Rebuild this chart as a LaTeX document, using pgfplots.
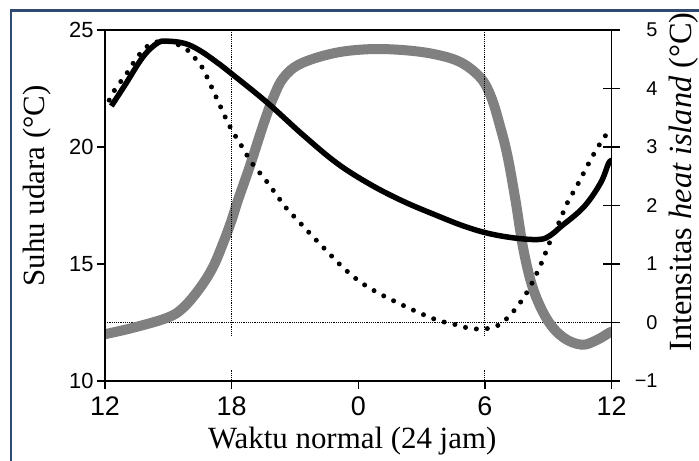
\documentclass[border=0pt]{standalone}
\usepackage{fontspec}
\setmainfont{Liberation Serif}
\newfontfamily\arialf{Liberation Sans}
\usepackage{pgfplots}
\pgfplotsset{compat=1.18}
\definecolor{framecol}{RGB}{46,74,112}
\definecolor{islandgray}{RGB}{128,128,128}

\newcommand{\rlab}[1]{\makebox[34bp][r]{\arialf\fontsize{20}{20}\selectfont #1}}

\pgfplotsset{
  base/.style={
    at={(105bp,80bp)}, anchor=south west,
    scale only axis, width=506.5bp, height=351bp,
    xmin=12, xmax=36,
    axis line style={line width=1.4bp, black},
    tick style={line width=1.4bp, black},
    /pgf/number format/assume math mode=true,
  },
}

\begin{document}
\begin{tikzpicture}[x=1bp,y=1bp]
\useasboundingbox (0,0) rectangle (699,461);
\fill[white] (0,0) rectangle (699,461);
\draw[framecol, line width=2.5bp] (11,-20) -- (11,450.5) -- (720,450.5);

% right axis: heat island intensity
\begin{axis}[base,
  ymin=-1, ymax=5,
  hide x axis, ytick pos=right, yticklabel pos=right,
  ytick={-1,0,1,2,3,4,5},
  yticklabels={\rlab{−1},\rlab{0},\rlab{1},\rlab{2},\rlab{3},\rlab{4},\rlab{5}},
  ytick align=center, major tick length=17bp,
  ylabel={Intensitas \textit{heat island} (°C)},
  every axis y label/.style={at={(axis description cs:1.143,0.567)}, rotate=90, anchor=center,
    font=\fontsize{32.5}{32.5}\selectfont},
]
\addplot[densely dotted, line width=1.2bp] coordinates {(12,0) (36,0)};
\addplot[islandgray, line width=10bp, smooth, tension=0.6] coordinates {
  (12.0,-0.20) (13.33,-0.09) (14.94,0.08) (15.7,0.25) (16.5,0.59)
  (17.12,0.95) (17.6,1.36) (18.0,1.75) (18.3,2.09) (18.88,2.69)
  (19.5,3.38) (19.97,3.84) (20.45,4.18) (21.25,4.42) (22.8,4.60)
  (24.4,4.67) (26.0,4.66) (27.56,4.59) (28.84,4.45) (29.8,4.18)
  (30.3,3.85) (30.7,3.38) (31.07,2.85) (31.45,2.09) (31.83,1.24)
  (32.3,0.56) (32.97,0.04) (33.73,-0.26) (34.6,-0.38) (35.3,-0.30)
  (35.87,-0.18) (36.0,-0.16)
};
\end{axis}

% left axis: air temperature
\begin{axis}[base,
  ymin=10, ymax=25,
  xtick={12,18,24,30,36}, xticklabels={12,18,0,6,12},
  ytick={10,15,20,25},
  xtick pos=bottom, ytick pos=left,
  tick align=outside, major tick length=8bp,
  xticklabel style={font=\arialf\fontsize{27}{27}\selectfont, yshift=-4bp},
  yticklabel style={font=\arialf\fontsize{22}{22}\selectfont},
  xlabel={Waktu normal (24 jam)},
  ylabel={Suhu udara (°C)},
  every axis y label/.style={at={(axis description cs:-0.134,0.556)}, rotate=90, anchor=center,
    font=\fontsize{31}{31}\selectfont},
  every axis x label/.style={at={(axis description cs:0.488,-0.172)}, anchor=center,
    font=\fontsize{31}{31}\selectfont},
]
\addplot[densely dotted, line width=1.2bp] coordinates {(18,25) (18,11.9)};
\addplot[densely dotted, line width=1.2bp] coordinates {(18,10.45) (18,10)};
\addplot[densely dotted, line width=1.2bp] coordinates {(30,25) (30,11.9)};
\addplot[densely dotted, line width=1.2bp] coordinates {(30,10.45) (30,10)};
% dotted series
\addplot[black, line width=5bp, line cap=round, dash pattern=on 0pt off 11bp, smooth, tension=0.6] coordinates {
  (12.2,22.0) (12.5,22.5) (13.0,23.1) (13.5,23.8) (14.0,24.3) (14.5,24.5)
  (15.0,24.5) (15.3,24.45) (15.65,24.27) (16.03,24.06) (16.36,23.68)
  (16.65,23.33) (17.08,22.5) (17.5,21.67) (17.93,20.85) (18.5,20.0)
  (18.97,19.3) (19.6,18.6) (20.2,17.86) (20.54,17.44) (21.2,16.8)
  (21.87,16.15) (22.6,15.47) (23.3,14.83) (24.1,14.23) (24.95,13.76)
  (25.9,13.33) (26.8,12.95) (27.75,12.6) (28.7,12.39) (29.2,12.26)
  (29.75,12.22) (30.26,12.26) (30.74,12.43) (31.1,12.73) (31.45,13.08)
  (31.73,13.42) (32.0,13.8) (32.26,14.23) (32.7,15.08) (33.06,15.9)
  (33.5,16.75) (33.9,17.6) (34.4,18.4) (34.86,19.2) (35.33,19.96)
  (35.9,20.73) (36.0,20.85)
};
% solid series
\addplot[black, line width=5.5bp, smooth, tension=0.6] coordinates {
  (12.3,21.75) (12.95,22.65) (13.8,23.85) (14.5,24.45) (15.0,24.52)
  (15.8,24.42) (16.5,24.12) (17.3,23.62) (18.07,23.08) (19.68,21.9)
  (21.4,20.5) (23.0,19.3) (24.57,18.4) (26.15,17.67) (27.7,17.08)
  (29.0,16.62) (30.2,16.3) (31.5,16.1) (32.6,16.05) (33.1,16.22)
  (33.58,16.58) (34.68,17.43) (35.48,18.46) (35.86,19.3) (36.0,19.4)
};
\end{axis}
\end{tikzpicture}
\end{document}
